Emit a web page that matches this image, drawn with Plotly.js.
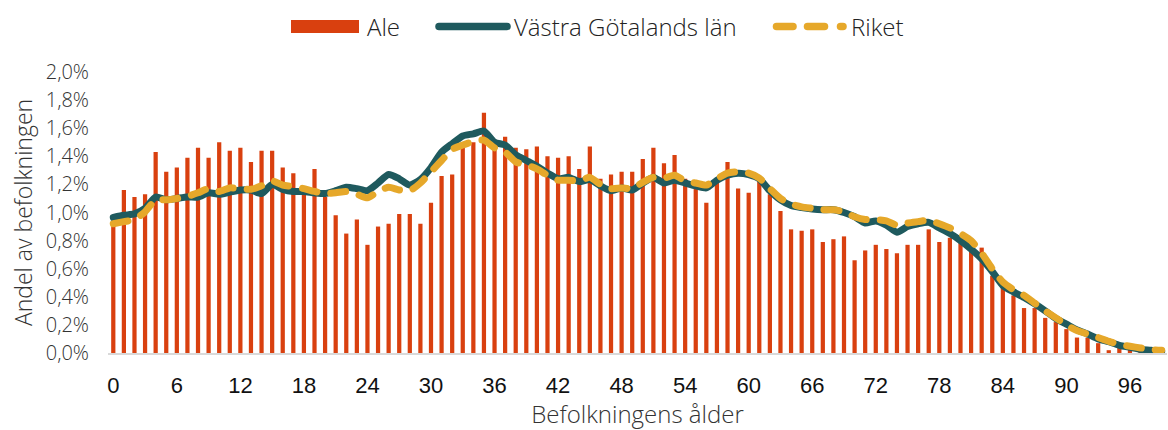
<!DOCTYPE html>
<html>
<head>
<meta charset="utf-8">
<script src="https://cdn.plot.ly/plotly-3.0.1.min.js"></script>
<style>
html,body{margin:0;padding:0;background:#fff;}
#chart{width:1168px;height:430px;}
.scatterlayer path.js-line{stroke-linecap:round;stroke-linejoin:round;}
.layer-above .shapelayer path{stroke-linecap:round;}
</style>
</head>
<body>
<div id="chart"></div>
<script>
// Ages 0..99
const ages = Array.from({length: 100}, (_, i) => i);
const tickAges = [0, 6, 12, 18, 24, 30, 36, 42, 48, 54, 60, 66, 72, 78, 84, 90, 96];
const seriesNames = ['Ale', 'Västra Götalands län', 'Riket'];

// Share of population (%) — Ale
const ale = [
  0.93, 1.16, 1.11, 1.13, 1.43, 1.29, 1.32, 1.39, 1.46, 1.39,
  1.50, 1.44, 1.46, 1.36, 1.44, 1.44, 1.32, 1.28, 1.15, 1.31,
  1.11, 0.98, 0.85, 0.95, 0.77, 0.90, 0.92, 0.99, 0.99, 0.92,
  1.07, 1.26, 1.27, 1.46, 1.50, 1.71, 1.52, 1.54, 1.46, 1.45,
  1.47, 1.40, 1.39, 1.40, 1.31, 1.47, 1.24, 1.27, 1.29, 1.29,
  1.38, 1.46, 1.35, 1.41, 1.24, 1.17, 1.07, 1.22, 1.36, 1.17,
  1.14, 1.22, 1.13, 1.01, 0.88, 0.87, 0.88, 0.79, 0.81, 0.83,
  0.66, 0.73, 0.77, 0.74, 0.71, 0.77, 0.77, 0.88, 0.79, 0.82,
  0.80, 0.72, 0.75, 0.55, 0.47, 0.41, 0.32, 0.32, 0.25, 0.22,
  0.17, 0.11, 0.11, 0.07, 0.02, 0.05, 0.025, 0.01, 0.0, 0.0
];

// Västra Götalands län
const vgl = [
  0.965, 0.98, 0.99, 1.03, 1.11, 1.09, 1.10, 1.11, 1.11, 1.14,
  1.13, 1.145, 1.16, 1.16, 1.135, 1.20, 1.165, 1.15, 1.15, 1.14,
  1.135, 1.155, 1.18, 1.17, 1.155, 1.21, 1.27, 1.24, 1.195, 1.235,
  1.32, 1.43, 1.49, 1.545, 1.56, 1.58, 1.50, 1.48, 1.41, 1.37,
  1.33, 1.28, 1.24, 1.25, 1.22, 1.235, 1.19, 1.155, 1.175, 1.16,
  1.21, 1.25, 1.21, 1.23, 1.21, 1.19, 1.175, 1.23, 1.265, 1.28,
  1.27, 1.24, 1.155, 1.09, 1.05, 1.035, 1.025, 1.02, 1.02, 1.00,
  0.97, 0.925, 0.94, 0.91, 0.86, 0.90, 0.92, 0.93, 0.89, 0.85,
  0.80, 0.74, 0.67, 0.58, 0.48, 0.435, 0.395, 0.35, 0.30, 0.245,
  0.205, 0.165, 0.135, 0.10, 0.08, 0.055, 0.04, 0.025, 0.02, 0.012
];

// Riket
const riket = [
  0.92, 0.935, 0.95, 1.005, 1.09, 1.09, 1.10, 1.115, 1.14, 1.17,
  1.15, 1.175, 1.17, 1.165, 1.19, 1.225, 1.195, 1.185, 1.17, 1.15,
  1.135, 1.14, 1.15, 1.13, 1.105, 1.15, 1.18, 1.16, 1.155, 1.21,
  1.29, 1.37, 1.45, 1.48, 1.505, 1.515, 1.46, 1.43, 1.36, 1.34,
  1.31, 1.265, 1.23, 1.23, 1.225, 1.25, 1.20, 1.17, 1.175, 1.17,
  1.215, 1.25, 1.245, 1.265, 1.225, 1.21, 1.195, 1.24, 1.28, 1.29,
  1.28, 1.245, 1.17, 1.10, 1.06, 1.04, 1.03, 1.02, 1.02, 1.005,
  0.97, 0.95, 0.95, 0.94, 0.91, 0.925, 0.935, 0.945, 0.92, 0.89,
  0.85, 0.80, 0.71, 0.60, 0.505, 0.45, 0.41, 0.355, 0.30, 0.25,
  0.20, 0.16, 0.135, 0.11, 0.083, 0.062, 0.048, 0.036, 0.024, 0.02
];

const colors = {ale: '#d9400f', vgl: '#1f5a5e', riket: '#e6a82a'};
const lightFont = "'Open Sans', 'Noto Sans', sans-serif";

const W = 1168, H = 430;
const M = {l: 108, r: 1, t: 72, b: 77};
const pw = W - M.l - M.r, ph = H - M.t - M.b;
// pixel -> paper helpers for the hand-drawn legend
const px = v => (v - M.l) / pw;
const py = v => (H - M.b - v) / ph;

const traces = [
  {type: 'bar', name: seriesNames[0], x: ages, y: ale,
   marker: {color: colors.ale, line: {width: 0}}, hoverinfo: 'skip', showlegend: false},
  {type: 'scatter', mode: 'lines', name: seriesNames[1], x: ages, y: vgl,
   line: {color: colors.vgl, width: 7, shape: 'spline', smoothing: 0.6}, hoverinfo: 'skip', showlegend: false},
  {type: 'scatter', mode: 'lines', name: seriesNames[2], x: ages, y: riket,
   line: {color: colors.riket, width: 7, shape: 'spline', smoothing: 0.6, dash: '15px,14px'}, hoverinfo: 'skip', showlegend: false}
];

const legY = 26.5;
const shapes = [
  {type: 'rect', xref: 'paper', yref: 'paper', x0: px(291), x1: px(359), y0: py(33), y1: py(20),
   fillcolor: colors.ale, line: {width: 0}},
  {type: 'line', xref: 'paper', yref: 'paper', x0: px(439), x1: px(507), y0: py(legY), y1: py(legY),
   line: {color: colors.vgl, width: 7.5}},
  {type: 'line', xref: 'paper', yref: 'paper', x0: px(776.5), x1: px(793), y0: py(legY), y1: py(legY),
   line: {color: colors.riket, width: 7.5}},
  {type: 'line', xref: 'paper', yref: 'paper', x0: px(807.5), x1: px(824.5), y0: py(legY), y1: py(legY),
   line: {color: colors.riket, width: 7.5}},
  {type: 'line', xref: 'paper', yref: 'paper', x0: px(840.5), x1: px(843), y0: py(legY), y1: py(legY),
   line: {color: colors.riket, width: 7.5}}
];

const legFont = {family: lightFont, size: 24, color: '#222', weight: 300};
const annotations = [
  {text: seriesNames[0], xref: 'paper', yref: 'paper', x: px(365), y: py(legY), xanchor: 'left', yanchor: 'middle', showarrow: false, font: legFont},
  {text: seriesNames[1], xref: 'paper', yref: 'paper', x: px(512), y: py(legY), xanchor: 'left', yanchor: 'middle', showarrow: false, font: legFont},
  {text: seriesNames[2], xref: 'paper', yref: 'paper', x: px(849), y: py(legY), xanchor: 'left', yanchor: 'middle', showarrow: false, font: legFont}
];

const layout = {
  width: W, height: H,
  margin: M,
  paper_bgcolor: '#ffffff', plot_bgcolor: '#ffffff',
  separators: ', ',
  bargap: 0.6,
  showlegend: false,
  shapes: shapes,
  annotations: annotations,
  xaxis: {
    range: [-0.5, 99.5],
    tickmode: 'array', tickvals: tickAges, ticktext: tickAges.map(String),
    tickfont: {family: "'Liberation Sans', Arial, sans-serif", size: 22, color: '#111'},
    ticklabelstandoff: 12,
    ticks: '', showgrid: false, zeroline: false,
    showline: true, linecolor: '#d9d9d9', linewidth: 2,
    title: {text: 'Befolkningens ålder', font: {family: lightFont, size: 24, color: '#333', weight: 300}, standoff: 10}
  },
  yaxis: {
    range: [0, 2.0], dtick: 0.2, tick0: 0,
    tickformat: '.1f', ticksuffix: '%',
    tickfont: {family: lightFont, size: 20, color: '#333', weight: 300},
    ticklabelstandoff: 18,
    ticks: '', showgrid: false, zeroline: false, showline: false,
    title: {text: 'Andel av befolkningen', font: {family: lightFont, size: 23, color: '#333', weight: 300}, standoff: 6}
  }
};

Plotly.newPlot('chart', traces, layout, {staticPlot: true, displayModeBar: false});
</script>
</body>
</html>
